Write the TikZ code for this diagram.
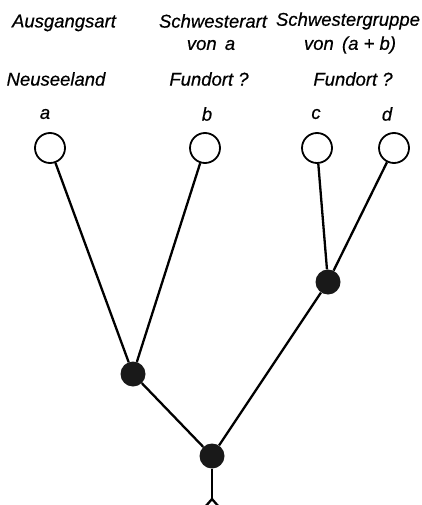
\documentclass[tikz,border=0pt]{standalone}
\usepackage{fontspec}
\setmainfont{Liberation Sans}
\newfontfamily\lettering{Liberation Sans}[FakeBold=0.5]
\begin{document}
\begin{tikzpicture}[x=1pt,y=-1pt,
		leaf/.style={circle,draw,line width=1.8pt,minimum size=30pt,inner sep=0pt},
		knot/.style={circle,fill=black!90,minimum size=25pt,inner sep=0pt},
		txt/.style={font=\lettering\itshape\fontsize{18.5}{20}\selectfont,inner sep=0pt},
		edge/.style={line width=2.3pt}]
		\useasboundingbox (0,0) rectangle (422,505);
		% headings
		\node[txt] (t1) at (64,23) {Ausgangsart};
		\node[txt] (t2) at (213,21) {Schwesterart};
		\node[txt] (t3) at (348,21) {Schwestergruppe};
		\node[txt] (t4) at (211,45) {von\, a};
		\node[txt] (t5) at (350,45) {von\, (a + b)};
		\node[txt] (t6) at (56,79) {Neuseeland};
		\node[txt] (t7) at (209,79) {Fundort ?};
		\node[txt] (t8) at (353,79) {Fundort ?};
		% taxa
		\node[txt] (la) at (45,114) {a};
		\node[txt] (lb) at (207,114) {b};
		\node[txt] (lc) at (316,114) {c};
		\node[txt] (ld) at (387,114) {d};
		\node[leaf] (a) at (50,148) {};
		\node[leaf] (b) at (205,148) {};
		\node[leaf] (c) at (317,148) {};
		\node[leaf] (d) at (394,148) {};
		\node[knot] (ab) at (133,374) {};
		\node[knot] (cd) at (328,282) {};
		\node[knot] (root) at (212,456) {};
		\coordinate (tip) at (212,499);
		\coordinate (vl) at (205,507);
		\coordinate (vr) at (219,507);
		\draw[edge] (a) -- (ab);
		\draw[edge] (b) -- (ab);
		\draw[edge] (c) -- (cd);
		\draw[edge] (d) -- (cd);
		\draw[edge] (ab) -- (root);
		\draw[edge] (cd) -- (root);
		\draw[edge] (root) -- (tip);
		\draw[edge] (vl) -- (tip) -- (vr);
	\end{tikzpicture}
\end{document}
